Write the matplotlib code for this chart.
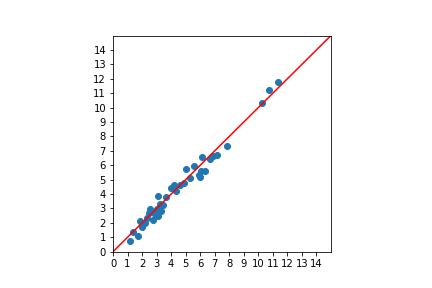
import matplotlib
matplotlib.use("Agg")
import matplotlib.pyplot as plt
import numpy as np

actual = [1.17, 1.38, 1.72, 1.86, 2.0, 2.2, 2.34, 2.48, 2.55, 2.75, 2.89, 3.03, 3.1, 3.1,
          3.23, 3.3, 3.44, 3.65, 3.99, 4.2, 4.34, 4.61, 4.89, 5.02, 5.3, 5.57, 5.92, 6.06,
          6.13, 6.33, 6.0, 6.68, 6.88, 7.16, 7.85, 10.25, 10.74, 11.36]
predicted = [0.74, 1.36, 1.09, 2.12, 1.71, 1.99, 2.33, 2.68, 2.95, 2.19, 2.61, 2.95, 3.85, 2.47,
             3.30, 2.82, 3.23, 3.79, 4.41, 4.62, 4.2, 4.62, 4.75, 5.72, 5.1, 5.93, 5.31, 5.58,
             6.55, 5.58, 5.17, 6.41, 6.62, 6.69, 7.31, 10.29, 11.19, 11.74]
lim = [0, 15]
ticks = np.arange(0, 15)

fig = plt.figure(figsize=(6, 4), dpi=72)
ax = fig.add_axes([0.2616, 0.126, 0.5046, 0.7507])
ax.scatter(actual, predicted)
ax.plot(lim, lim, color="red")
ax.set_xlim(lim)
ax.set_ylim(lim)
ax.set_xticks(ticks)
ax.set_yticks(ticks)
fig.savefig("out.png", dpi=72)
